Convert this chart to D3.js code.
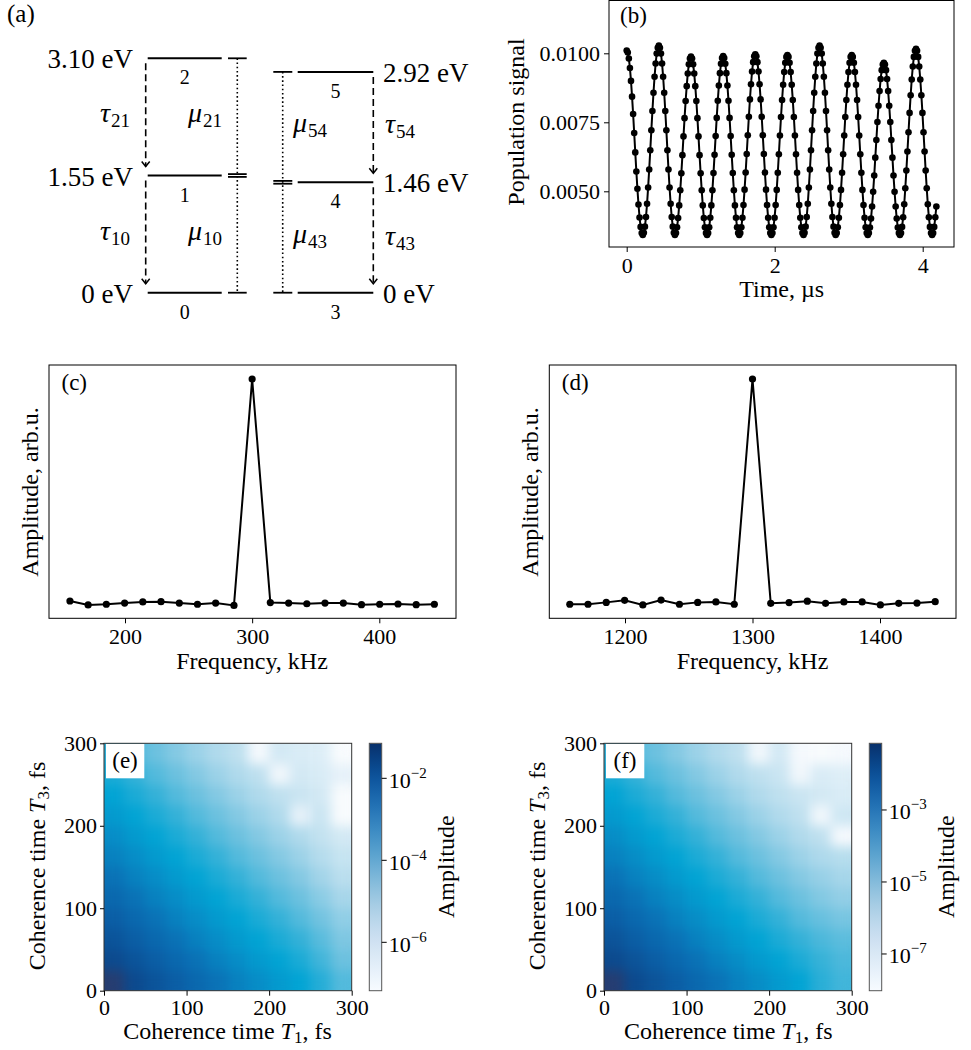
<!DOCTYPE html>
<html><head><meta charset="utf-8">
<script src="https://cdn.jsdelivr.net/npm/d3@7"></script>
<style>
body{margin:0;background:#fff;}
svg{display:block;}
svg text{font-family:"Liberation Serif","Times New Roman","DejaVu Serif",serif !important;}
</style></head><body>
<svg id="c" width="971" height="1050" xmlns="http://www.w3.org/2000/svg"></svg>
<script>
// ================= DATA =================
// (a) level scheme
const leftLevelNames = ["0", "1", "2"];
const leftLevelEnergies = [0, 1.55, 3.10];
const leftLevelLabels = ["0 eV", "1.55 eV", "3.10 eV"];
const rightLevelNames = ["3", "4", "5"];
const rightLevelEnergies = [0, 1.46, 2.92];
const rightLevelLabels = ["0 eV", "1.46 eV", "2.92 eV"];
const relaxationLabels = [["τ", "21"], ["τ", "10"], ["τ", "54"], ["τ", "43"]];
const dipoleLabels = [["μ", "21"], ["μ", "10"], ["μ", "54"], ["μ", "43"]];

// (b) population signal, sampled every sampleStep µs (values in units of 1e-3)
const sampleStep = 0.01448;
const populationSignalMilli = [
10.10,10.03,9.81,9.47,9.00,8.43,7.80,7.11,6.41,5.72,5.09,4.52,4.05,3.71,3.49,3.42,
3.50,3.72,4.07,4.55,5.14,5.79,6.49,7.21,7.91,8.57,9.15,9.63,9.99,10.20,
10.28,10.20,9.99,9.63,9.15,8.57,7.91,7.21,6.49,5.79,5.14,4.55,4.07,3.72,3.50,3.42,
3.49,3.70,4.03,4.49,5.04,5.65,6.31,6.99,7.65,8.27,8.81,9.27,9.60,9.81,
9.88,9.81,9.60,9.27,8.81,8.27,7.65,6.99,6.31,5.65,5.04,4.49,4.03,3.70,3.49,3.42,
3.49,3.70,4.04,4.49,5.04,5.66,6.32,7.00,7.66,8.28,8.83,9.28,9.62,9.83,
9.90,9.83,9.62,9.28,8.83,8.28,7.66,7.00,6.32,5.66,5.04,4.49,4.04,3.70,3.49,3.42,
3.49,3.70,4.04,4.50,5.06,5.68,6.35,7.03,7.70,8.33,8.88,9.34,9.68,9.89,
9.96,9.89,9.68,9.34,8.88,8.33,7.70,7.03,6.35,5.68,5.06,4.50,4.04,3.70,3.49,3.42,
3.49,3.70,4.04,4.50,5.05,5.67,6.34,7.02,7.69,8.31,8.86,9.32,9.66,9.87,
9.94,9.87,9.66,9.32,8.86,8.31,7.69,7.02,6.34,5.67,5.05,4.50,4.04,3.70,3.49,3.42,
3.50,3.72,4.07,4.55,5.14,5.79,6.49,7.21,7.91,8.57,9.15,9.63,9.99,10.20,
10.28,10.20,9.99,9.63,9.15,8.57,7.91,7.21,6.49,5.79,5.14,4.55,4.07,3.72,3.50,3.42,
3.49,3.70,4.04,4.50,5.05,5.67,6.34,7.02,7.69,8.31,8.86,9.32,9.66,9.87,
9.94,9.87,9.66,9.32,8.86,8.31,7.69,7.02,6.34,5.67,5.05,4.50,4.04,3.70,3.49,3.42,
3.49,3.69,4.01,4.45,4.98,5.57,6.22,6.86,7.51,8.10,8.63,9.07,9.39,9.59,
9.66,9.59,9.39,9.07,8.63,8.10,7.51,6.86,6.22,5.57,4.98,4.45,4.01,3.69,3.49,3.42,
3.49,3.71,4.06,4.53,5.11,5.75,6.44,7.14,7.84,8.48,9.05,9.52,9.87,10.09,
10.16,10.09,9.87,9.52,9.05,8.48,7.84,7.14,6.44,5.75,5.11,4.53,4.06,3.71,3.49,3.42,
3.49,3.71,4.06,4.45
];
const timeTicks = [0, 2, 4];
const signalTicks = [0.0050, 0.0075, 0.0100];

// (c) spectrum around 300 kHz
const freqC = [156.7,171.0,185.3,199.7,214.0,228.3,242.7,257.0,271.3,285.7,300.0,314.3,328.7,343.0,357.3,371.7,386.0,400.3,414.7,429.0,443.3];
const ampC = [0.039,0.022,0.025,0.030,0.035,0.036,0.030,0.025,0.030,0.020,1.000,0.032,0.030,0.027,0.030,0.030,0.023,0.025,0.026,0.023,0.025];
const freqTicksC = [200, 300, 400];
// (d) spectrum around 1300 kHz
const freqD = [1156.7,1171.0,1185.3,1199.7,1214.0,1228.3,1242.7,1257.0,1271.3,1285.7,1300.0,1314.3,1328.7,1343.0,1357.3,1371.7,1386.0,1400.3,1414.7,1429.0,1443.3];
const ampD = [0.025,0.025,0.033,0.042,0.022,0.043,0.025,0.033,0.035,0.025,1.000,0.029,0.032,0.038,0.029,0.035,0.035,0.022,0.029,0.030,0.036];
const freqTicksD = [1200, 1300, 1400];

// (e),(f) log10 amplitude on 25 fs cells; rows = T3 from 0 (first row) to 300, columns = T1 from 0 to 300
const cellEdges = [0,25,50,75,100,125,150,175,200,225,250,275,300];
const coherenceTicks = [0, 100, 200, 300];
const gridE = [
[-1.3,-1.8,-2.1,-2.4,-2.7,-3.0,-3.3,-3.55,-3.85,-4.1,-4.45,-4.85],
[-1.8,-2.1,-2.4,-2.7,-3.0,-3.3,-3.55,-3.85,-4.1,-4.35,-4.7,-5.05],
[-2.1,-2.4,-2.7,-3.0,-3.3,-3.55,-3.85,-4.1,-4.35,-4.6,-4.9,-5.2],
[-2.4,-2.7,-3.0,-3.3,-3.55,-3.85,-4.1,-4.35,-4.6,-4.85,-5.1,-5.35],
[-2.7,-3.0,-3.3,-3.55,-3.85,-4.1,-4.35,-4.6,-4.85,-5.05,-5.3,-5.55],
[-3.0,-3.3,-3.55,-3.85,-4.1,-4.35,-4.6,-4.85,-5.05,-5.25,-5.5,-5.75],
[-3.3,-3.55,-3.85,-4.1,-4.35,-4.6,-4.85,-5.05,-5.25,-5.45,-5.7,-5.9],
[-3.55,-3.85,-4.1,-4.35,-4.6,-4.85,-5.05,-5.25,-5.45,-5.65,-5.85,-6.1],
[-3.85,-4.1,-4.35,-4.6,-4.85,-5.05,-5.25,-5.45,-5.65,-6.5,-5.95,-7.0],
[-4.1,-4.35,-4.6,-4.85,-5.05,-5.25,-5.45,-5.65,-5.8,-5.95,-6.1,-7.0],
[-4.35,-4.6,-4.85,-5.05,-5.25,-5.45,-5.65,-5.8,-6.8,-6.1,-6.2,-6.5],
[-4.55,-4.8,-5.05,-5.25,-5.45,-5.65,-5.8,-6.9,-6.1,-6.2,-6.3,-7.0]
];
const gridF = [
[-1.35,-1.89,-2.23,-2.57,-2.92,-3.26,-3.60,-3.88,-4.23,-4.51,-4.95,-5.2],
[-1.89,-2.23,-2.57,-2.92,-3.26,-3.60,-3.88,-4.23,-4.51,-4.80,-5.1,-5.3],
[-2.23,-2.57,-2.92,-3.26,-3.60,-3.88,-4.23,-4.51,-4.80,-5.08,-5.3,-5.45],
[-2.57,-2.92,-3.26,-3.60,-3.88,-4.23,-4.51,-4.80,-5.08,-5.37,-5.55,-5.7],
[-2.92,-3.26,-3.60,-3.88,-4.23,-4.51,-4.80,-5.08,-5.37,-5.59,-5.8,-5.95],
[-3.26,-3.60,-3.88,-4.23,-4.51,-4.80,-5.08,-5.37,-5.59,-5.82,-6.0,-6.15],
[-3.60,-3.88,-4.23,-4.51,-4.80,-5.08,-5.37,-5.59,-5.82,-6.05,-6.25,-6.35],
[-3.88,-4.23,-4.51,-4.80,-5.08,-5.37,-5.59,-5.82,-6.05,-6.28,-6.45,-7.7],
[-4.23,-4.51,-4.80,-5.08,-5.37,-5.59,-5.82,-6.05,-6.28,-6.45,-7.6,-6.7],
[-4.51,-4.80,-5.08,-5.37,-5.59,-5.82,-6.05,-6.28,-6.45,-6.62,-6.79,-6.9],
[-4.80,-5.08,-5.37,-5.59,-5.82,-6.05,-6.28,-6.45,-6.62,-7.6,-6.9,-7.02],
[-5.08,-5.37,-5.59,-5.82,-6.05,-6.28,-6.45,-7.6,-6.79,-7.7,-7.8,-7.7]
];
const colorbarRangeE = [-7.18, -1.146];
const colorbarTicksE = [-6, -4, -2];
const colorbarRangeF = [-8.02, -1.148];
const colorbarTicksF = [-7, -5, -3];

// ================= DRAWING =================
const FONT = '"Liberation Serif", "Times New Roman", "DejaVu Serif", serif';
const LAB = 24;   // axis label size
const TICK = 22;  // tick label size
const svg = d3.select("#c");
svg.append("rect").attr("width", 971).attr("height", 1050).attr("fill", "#fff");
const defs = svg.append("defs");
const smooth = defs.append("filter").attr("id", "smooth")
  .attr("x", "-2%").attr("y", "-2%").attr("width", "104%").attr("height", "104%")
  .attr("color-interpolation-filters", "sRGB");
smooth.append("feGaussianBlur").attr("stdDeviation", 6);
smooth.append("feComponentTransfer").append("feFuncA").attr("type", "table").attr("tableValues", "1 1");

function txt(g, x, y, s, size, anchor) {
  return g.append("text").attr("x", x).attr("y", y).text(s)
    .style("font-family", FONT).attr("font-size", size).attr("fill", "#000")
    .attr("text-anchor", anchor || "start");
}
function styleAxis(g) {
  g.attr("font-family", null).attr("font-size", null);
  g.select(".domain").remove();
  g.selectAll(".tick line").attr("stroke", "#000").attr("stroke-width", 1);
  g.selectAll(".tick text").style("font-family", FONT).attr("font-size", TICK).attr("fill", "#000");
}

// ---------- (a)
(function () {
  const g = svg.append("g");
  const ey = d3.scaleLinear([0, 3.10], [292.7, 58.3]);
  txt(g, 7, 22, "(a)", 25);
  const L = {x0: 147.7, x1: 221.7, s0: 228, s1: 246.7, dot: 237.3, arr: 145.7};
  const R = {x0: 297.7, x1: 373.3, s0: 273.3, s1: 292.3, dot: 282.7, arr: 373.3};
  function side(S, energies, names, labels, right) {
    energies.forEach((E, i) => {
      const y = ey(E);
      g.append("line").attr("x1", S.x0).attr("x2", S.x1).attr("y1", y).attr("y2", y)
        .attr("stroke", "#000").attr("stroke-width", 2);
      const offs = i === 1 ? [-1.4, 1.4] : [0];
      offs.forEach(o => g.append("line").attr("x1", S.s0).attr("x2", S.s1).attr("y1", y + o).attr("y2", y + o)
        .attr("stroke", "#000").attr("stroke-width", 1.8));
      if (right) txt(g, 383, y + 10, labels[i], 27);
      else txt(g, 133, y + 10, labels[i], 27, "end");
      txt(g, (S.x0 + S.x1) / 2, y + 19, names[i], 20, "middle").attr("dominant-baseline", "central");
    });
    g.append("line").attr("x1", S.dot).attr("x2", S.dot)
      .attr("y1", ey(energies[2])).attr("y2", ey(energies[0]))
      .attr("stroke", "#000").attr("stroke-width", 1.6).attr("stroke-dasharray", "1.6,2.6");
    [[2, 1], [1, 0]].forEach(([a, b]) => {
      const yA = ey(energies[a]) + 5, yB = ey(energies[b]) - 9;
      g.append("line").attr("x1", S.arr).attr("x2", S.arr).attr("y1", yA).attr("y2", yB)
        .attr("stroke", "#000").attr("stroke-width", 1.6).attr("stroke-dasharray", "7,4");
      g.append("polyline").attr("points", `${S.arr - 4},${yB - 5} ${S.arr},${yB} ${S.arr + 4},${yB - 5}`)
        .attr("fill", "none").attr("stroke", "#000").attr("stroke-width", 1.5);
    });
  }
  side(L, leftLevelEnergies, leftLevelNames, leftLevelLabels, false);
  side(R, rightLevelEnergies, rightLevelNames, rightLevelLabels, true);
  function sym(x, y, pair) {
    const t = g.append("text").attr("x", x).attr("y", y).style("font-family", FONT).attr("fill", "#000");
    t.append("tspan").attr("font-style", "italic").attr("font-size", 28).text(pair[0]);
    t.append("tspan").attr("font-size", 19).attr("dy", 5).attr("dx", 1).text(pair[1]);
  }
  const relaxPos = [[100, 122], [100, 240], [385, 133], [385, 245]];
  const dipolePos = [[188, 122], [188, 240], [293, 132], [293, 243]];
  relaxationLabels.forEach((p, i) => sym(relaxPos[i][0], relaxPos[i][1], p));
  dipoleLabels.forEach((p, i) => sym(dipolePos[i][0], dipolePos[i][1], p));
})();

// ---------- (b)
(function () {
  const g = svg.append("g");
  const X0 = 609, X1 = 954, Y0 = 0.5, Y1 = 247;
  const x = d3.scaleLinear([0, 4], [626.7, 922.7]);
  const y = d3.scaleLinear([0.005, 0.010], [191.3, 53.3]);
  const pts = populationSignalMilli.map((v, i) => ({t: i * sampleStep, v: v * 1e-3}));
  g.append("path").datum(pts)
    .attr("d", d3.line().x(d => x(d.t)).y(d => y(d.v)))
    .attr("fill", "none").attr("stroke", "#000").attr("stroke-width", 2);
  g.selectAll("circle").data(pts).join("circle")
    .attr("cx", d => x(d.t)).attr("cy", d => y(d.v)).attr("r", 3.3).attr("fill", "#000");
  g.append("rect").attr("x", X0).attr("y", Y0).attr("width", X1 - X0).attr("height", Y1 - Y0)
    .attr("fill", "none").attr("stroke", "#000").attr("stroke-width", 1);
  const ax = g.append("g").attr("transform", `translate(0,${Y1})`)
    .call(d3.axisBottom(x).tickValues(timeTicks).tickFormat(d3.format("d")).tickSize(5).tickPadding(5));
  styleAxis(ax);
  const ay = g.append("g").attr("transform", `translate(${X0},0)`)
    .call(d3.axisLeft(y).tickValues(signalTicks).tickFormat(d3.format(".4f")).tickSize(5).tickPadding(4));
  styleAxis(ay);
  txt(g, 620, 23, "(b)", 23);
  txt(g, 781.7, 297, "Time, µs", LAB, "middle");
  txt(g, 0, 0, "Population signal", LAB, "middle").attr("transform", "translate(524,122) rotate(-90)");
})();

// ---------- (c),(d)
function spectrum(cfg) {
  const g = svg.append("g");
  const x = d3.scaleLinear(cfg.tickDom, cfg.tickPix);
  const y = d3.scaleLinear([0, 1], [610, 379]);
  const pts = cfg.freq.map((f, i) => ({f, a: cfg.amp[i]}));
  g.append("path").datum(pts).attr("d", d3.line().x(d => x(d.f)).y(d => y(d.a)))
    .attr("fill", "none").attr("stroke", "#000").attr("stroke-width", 2);
  g.selectAll("circle").data(pts).join("circle")
    .attr("cx", d => x(d.f)).attr("cy", d => y(d.a)).attr("r", 3.6).attr("fill", "#000");
  g.append("rect").attr("x", cfg.X0).attr("y", 365).attr("width", cfg.X1 - cfg.X0).attr("height", 253.3)
    .attr("fill", "none").attr("stroke", "#000").attr("stroke-width", 1);
  const ax = g.append("g").attr("transform", "translate(0,618.3)")
    .call(d3.axisBottom(x).tickValues(cfg.ticks).tickFormat(d3.format("d")).tickSize(5).tickPadding(5));
  styleAxis(ax);
  txt(g, cfg.X0 + 12.5, 390, cfg.letter, 23);
  txt(g, cfg.xlabX, 669, "Frequency, kHz", LAB, "middle");
  txt(g, 0, 0, "Amplitude, arb.u.", LAB, "middle").attr("transform", `translate(${cfg.ylabX},492) rotate(-90)`);
}
spectrum({freq: freqC, amp: ampC, ticks: freqTicksC, tickDom: [200, 400], tickPix: [125, 379.3],
  X0: 49, X1: 456, letter: "(c)", xlabX: 252, ylabX: 38});
spectrum({freq: freqD, amp: ampD, ticks: freqTicksD, tickDom: [1200, 1400], tickPix: [625, 880],
  X0: 549.3, X1: 956, letter: "(d)", xlabX: 752.5, ylabX: 538.3});

// ---------- (e),(f)
const heatColor = d3.scaleLinear()
  .domain([0, 0.113, 0.163, 0.221, 0.279, 0.345, 0.428, 0.511, 0.594, 0.693, 0.793, 0.892, 0.992, 1])
  .range(["#ffffff", "#e6f1f9", "#d9ecf6", "#c3e2f0", "#a2d4e9", "#72c3e0", "#34b1d8", "#02a4d4",
          "#078fc8", "#0a72b6", "#0b5ea5", "#0c4a8e", "#2c3a6b", "#2c3a6b"])
  .clamp(true);

function heatPanel(cfg) {
  const g = svg.append("g");
  const xs = d3.scaleLinear([0, 300], [cfg.x0, cfg.x1]);
  const ys = d3.scaleLinear([0, 300], [cfg.y1, cfg.y0]);
  const clipId = "clip" + cfg.key;
  defs.append("clipPath").attr("id", clipId).append("rect")
    .attr("x", cfg.x0).attr("y", cfg.y0).attr("width", cfg.x1 - cfg.x0).attr("height", cfg.y1 - cfg.y0);
  const inner = g.append("g").attr("clip-path", `url(#${clipId})`).append("g").attr("filter", "url(#smooth)");
  const norm = d3.scaleLinear(cfg.range, [0, 1]);
  const cells = [];
  cfg.grid.forEach((row, j) => row.forEach((v, i) => cells.push({i, j, v})));
  inner.selectAll("rect").data(cells).join("rect")
    .attr("x", d => xs(cellEdges[d.i]) - 0.3)
    .attr("y", d => ys(cellEdges[d.j + 1]) - 0.3)
    .attr("width", d => xs(cellEdges[d.i + 1]) - xs(cellEdges[d.i]) + 0.6)
    .attr("height", d => ys(cellEdges[d.j]) - ys(cellEdges[d.j + 1]) + 0.6)
    .attr("fill", d => heatColor(norm(d.v)));
  g.append("rect").attr("x", cfg.x0).attr("y", cfg.y0).attr("width", cfg.x1 - cfg.x0).attr("height", cfg.y1 - cfg.y0)
    .attr("fill", "none").attr("stroke", "#333").attr("stroke-width", 1);
  const ax = g.append("g").attr("transform", `translate(0,${cfg.y1})`)
    .call(d3.axisBottom(xs).tickValues(coherenceTicks).tickFormat(d3.format("d")).tickSize(5).tickPadding(4));
  styleAxis(ax);
  const ay = g.append("g").attr("transform", `translate(${cfg.x0},0)`)
    .call(d3.axisLeft(ys).tickValues(coherenceTicks).tickFormat(d3.format("d")).tickSize(4).tickPadding(3));
  styleAxis(ay);
  g.append("rect").attr("x", cfg.x0 + 2).attr("y", cfg.y0 + 0.7).attr("width", 38.3).attr("height", 34.3).attr("fill", "#fff");
  txt(g, cfg.x0 + 21, cfg.y0 + 25, cfg.letter, 23, "middle");
  const xl = g.append("text").attr("x", cfg.xlabX).attr("y", 1039).attr("text-anchor", "middle")
    .style("font-family", FONT).attr("font-size", LAB).attr("fill", "#000");
  xl.append("tspan").text("Coherence time ");
  xl.append("tspan").attr("font-style", "italic").text("T");
  xl.append("tspan").attr("font-size", 17).attr("dy", 4).text("1");
  xl.append("tspan").attr("dy", -4).text(", fs");
  const yl = g.append("text").attr("text-anchor", "middle")
    .attr("transform", `translate(${cfg.ylabX},866) rotate(-90)`)
    .style("font-family", FONT).attr("font-size", LAB).attr("fill", "#000");
  yl.append("tspan").text("Coherence time ");
  yl.append("tspan").attr("font-style", "italic").text("T");
  yl.append("tspan").attr("font-size", 17).attr("dy", 4).text("3");
  yl.append("tspan").attr("dy", -4).text(", fs");
  const gid = "cbgrad" + cfg.key;
  const grad = defs.append("linearGradient").attr("id", gid).attr("x1", 0).attr("y1", 1).attr("x2", 0).attr("y2", 0);
  d3.range(0, 1.0001, 0.05).forEach(t => grad.append("stop").attr("offset", t).attr("stop-color", d3.interpolateBlues(t)));
  g.append("rect").attr("x", cfg.cb0).attr("y", cfg.y0).attr("width", cfg.cb1 - cfg.cb0).attr("height", cfg.y1 - cfg.y0)
    .attr("fill", `url(#${gid})`).attr("stroke", "#555").attr("stroke-width", 1);
  const cs = d3.scaleLinear(cfg.range, [cfg.y1, cfg.y0]);
  cfg.cbTicks.forEach(v => {
    const yy = cs(v);
    g.append("line").attr("x1", cfg.cb1).attr("x2", cfg.cb1 + 5).attr("y1", yy).attr("y2", yy)
      .attr("stroke", "#000").attr("stroke-width", 1);
    const t = g.append("text").attr("x", cfg.cb1 + 7).attr("y", yy + 9.5)
      .style("font-family", FONT).attr("font-size", TICK).attr("fill", "#000");
    t.append("tspan").text("10");
    t.append("tspan").attr("font-size", 15).attr("dy", -10).text("−" + Math.abs(v));
  });
  txt(g, 0, 0, "Amplitude", LAB, "middle").attr("transform", `translate(${cfg.cbLabX},866.7) rotate(-90)`);
}
heatPanel({key: "e", grid: gridE, range: colorbarRangeE, cbTicks: colorbarTicksE,
  x0: 104, x1: 351.7, y0: 743.3, y1: 990.7, cb0: 369.3, cb1: 381.7,
  letter: "(e)", xlabX: 227.5, ylabX: 45, cbLabX: 454});
heatPanel({key: "f", grid: gridF, range: colorbarRangeF, cbTicks: colorbarTicksF,
  x0: 604, x1: 851.7, y0: 743.3, y1: 990.7, cb0: 869.3, cb1: 881.7,
  letter: "(f)", xlabX: 728.3, ylabX: 545, cbLabX: 954});
</script>
</body></html>
